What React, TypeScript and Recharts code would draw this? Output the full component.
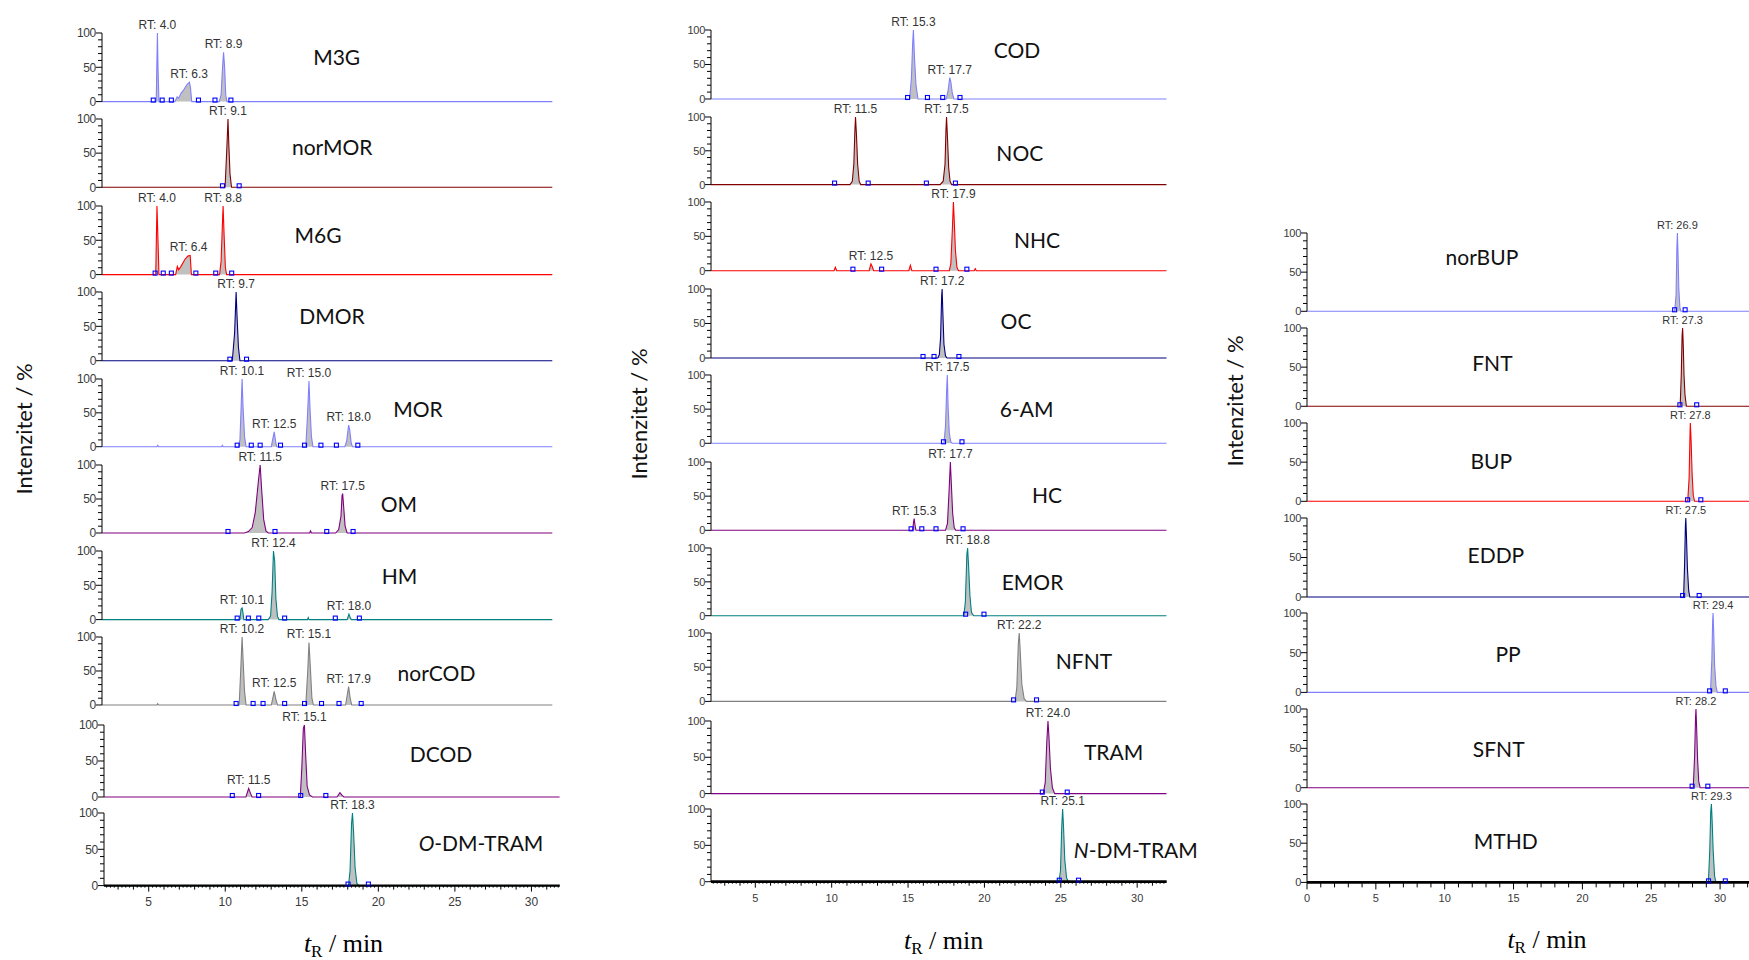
import React from 'react';
import { ComposedChart, Area, Scatter, XAxis, YAxis, ReferenceDot } from 'recharts';

// ================= DATA =================
// traces: [retention time (min, axis position), intensity %]
// marks: integration boundary markers (min)
// rt: [time, intensity, label]

// ---- Column 1 ----
const m3gTrace = [[5.48,0],[5.56,100],[5.6,48],[5.66,0],[6.7,0],[6.85,7],[6.95,5],[7.1,12],[7.3,18],[7.5,25],[7.65,28],[7.72,20],[7.8,0],[9.6,0],[9.72,10],[9.8,45],[9.88,72],[9.95,50],[10.02,10],[10.1,0]];
const m3gMarks = [5.29,5.87,6.47,8.24,9.32,10.36];
const m3gRT = [[5.56,100,'RT: 4.0'],[7.63,28,'RT: 6.3'],[9.88,72,'RT: 8.9']];

const normorTrace = [[9.98,0],[10.1,60],[10.17,100],[10.22,65],[10.3,20],[10.4,0]];
const normorMarks = [9.81,10.9];
const normorRT = [[10.17,100,'RT: 9.1']];

const m6gTrace = [[5.45,0],[5.53,100],[5.6,48],[5.66,0],[6.75,0],[6.86,12],[6.95,7],[7.1,12],[7.35,22],[7.55,27],[7.7,28],[7.78,0],[9.62,0],[9.72,20],[9.8,70],[9.85,100],[9.92,55],[10.0,10],[10.08,0]];
const m6gMarks = [5.41,5.94,6.47,8.07,9.37,10.41];
const m6gRT = [[5.53,100,'RT: 4.0'],[7.6,28,'RT: 6.4'],[9.85,100,'RT: 8.8']];

const dmorTrace = [[10.45,0],[10.6,40],[10.7,100],[10.76,65],[10.85,20],[10.95,0]];
const dmorMarks = [10.29,11.38];
const dmorRT = [[10.7,100,'RT: 9.7']];

const morTrace = [[5.52,0],[5.58,2],[5.64,0],[9.74,0],[9.8,2],[9.86,0],[10.85,0],[10.95,10],[11.03,60],[11.09,100],[11.15,60],[11.25,15],[11.35,0],[13.0,0],[13.1,12],[13.19,22],[13.28,8],[13.35,0],[15.25,0],[15.35,40],[15.46,97],[15.52,60],[15.62,15],[15.72,0],[17.8,0],[17.92,8],[18.05,32],[18.12,25],[18.22,5],[18.3,0]];
const morMarks = [10.77,11.69,12.27,13.6,15.17,16.24,17.25,18.65];
const morRT = [[11.09,100,'RT: 10.1'],[13.19,22,'RT: 12.5'],[15.46,97,'RT: 15.0'],[18.05,32,'RT: 18.0']];

const omTrace = [[11.25,0],[11.5,2],[11.75,8],[11.95,30],[12.15,75],[12.27,100],[12.38,60],[12.5,20],[12.65,3],[12.8,0],[15.5,0],[15.56,3],[15.62,0],[17.2,0],[17.4,5],[17.55,25],[17.62,55],[17.66,58],[17.72,40],[17.82,10],[17.95,0]];
const omMarks = [10.17,13.24,16.62,18.34];
const omRT = [[12.27,100,'RT: 11.5'],[17.66,58,'RT: 17.5']];

const hmTrace = [[10.95,0],[11.02,15],[11.09,17],[11.15,10],[11.2,0],[12.8,0],[12.95,5],[13.05,40],[13.14,100],[13.22,85],[13.3,30],[13.4,5],[13.5,0],[15.36,0],[15.41,3],[15.46,0],[17.95,0],[18.07,8],[18.15,3],[18.22,0]];
const hmMarks = [10.77,11.5,12.18,13.87,17.18,18.75];
const hmRT = [[11.09,17,'RT: 10.1'],[13.14,100,'RT: 12.4'],[18.07,8,'RT: 18.0']];

const norcodTrace = [[5.53,0],[5.58,2],[5.63,0],[10.9,0],[11.0,50],[11.09,100],[11.15,70],[11.25,20],[11.35,0],[13.0,0],[13.19,20],[13.3,8],[13.4,0],[15.25,0],[15.38,50],[15.46,92],[15.55,55],[15.65,10],[15.75,0],[17.85,0],[18.05,27],[18.15,10],[18.25,0]];
const norcodMarks = [10.7,11.81,12.46,13.87,15.17,16.28,17.42,18.87];
const norcodRT = [[11.09,100,'RT: 10.2'],[13.19,20,'RT: 12.5'],[15.46,92,'RT: 15.1'],[18.05,27,'RT: 17.9']];

const dcodTrace = [[11.35,0],[11.53,12],[11.65,5],[11.75,0],[14.9,0],[15.0,40],[15.1,95],[15.17,100],[15.25,60],[15.35,15],[15.5,3],[15.7,0],[17.3,0],[17.49,6],[17.65,2],[17.75,0]];
const dcodMarks = [10.46,12.18,14.93,16.57];
const dcodRT = [[11.53,12,'RT: 11.5'],[15.17,100,'RT: 15.1']];

const odmtramTrace = [[18.05,0],[18.15,20],[18.25,85],[18.31,100],[18.38,75],[18.48,25],[18.6,3],[18.75,0]];
const odmtramMarks = [18.02,19.35];
const odmtramRT = [[18.31,100,'RT: 18.3']];

// ---- Column 2 ----
const codTrace = [[15.1,0],[15.22,30],[15.3,80],[15.35,100],[15.42,60],[15.52,20],[15.65,0],[17.5,0],[17.62,12],[17.73,31],[17.8,25],[17.9,8],[18.0,0]];
const codMarks = [14.97,16.27,17.27,18.4];
const codRT = [[15.35,100,'RT: 15.3'],[17.73,31,'RT: 17.7']];

const nocTrace = [[11.2,0],[11.35,5],[11.45,30],[11.52,80],[11.56,100],[11.62,75],[11.7,30],[11.8,5],[11.9,0],[17.1,0],[17.3,5],[17.42,30],[17.48,80],[17.52,100],[17.58,70],[17.66,25],[17.75,5],[17.85,0]];
const nocMarks = [10.19,12.39,16.2,18.1];
const nocRT = [[11.56,100,'RT: 11.5'],[17.52,100,'RT: 17.5']];

const nhcTrace = [[10.15,0],[10.24,5],[10.33,0],[12.45,0],[12.57,10],[12.65,6],[12.75,0],[15.05,0],[15.15,8],[15.25,0],[17.7,0],[17.8,10],[17.9,60],[17.97,100],[18.03,70],[18.1,30],[18.2,5],[18.3,0],[19.33,0],[19.4,3],[19.47,0]];
const nhcMarks = [11.39,13.27,16.83,18.85];
const nhcRT = [[12.57,10,'RT: 12.5'],[17.97,100,'RT: 17.9']];

const ocTrace = [[16.95,0],[17.05,5],[17.13,30],[17.2,90],[17.23,100],[17.28,65],[17.35,20],[17.45,3],[17.55,0]];
const ocMarks = [15.98,16.7,18.33];
const ocRT = [[17.23,100,'RT: 17.2']];

const amTrace = [[17.35,0],[17.45,25],[17.53,80],[17.57,100],[17.62,55],[17.7,15],[17.8,2],[17.9,0]];
const amMarks = [17.32,18.53];
const amRT = [[17.57,100,'RT: 17.5']];

const hcTrace = [[15.3,0],[15.36,12],[15.4,17],[15.45,8],[15.52,0],[17.45,0],[17.58,10],[17.68,55],[17.77,100],[17.83,70],[17.92,25],[18.02,4],[18.12,0]];
const hcMarks = [15.2,15.9,16.83,18.6];
const hcRT = [[15.4,17,'RT: 15.3'],[17.77,100,'RT: 17.7']];

const emorTrace = [[18.65,0],[18.75,20],[18.85,90],[18.9,100],[18.96,75],[19.05,30],[19.15,5],[19.3,0]];
const emorMarks = [18.77,19.97];
const emorRT = [[18.9,100,'RT: 18.8']];

const nfntTrace = [[22.0,0],[22.12,20],[22.22,85],[22.28,100],[22.35,70],[22.45,25],[22.6,4],[22.75,0]];
const nfntMarks = [21.91,23.41];
const nfntRT = [[22.28,100,'RT: 22.2']];

const tramTrace = [[23.85,0],[23.98,15],[24.08,70],[24.16,100],[24.22,80],[24.32,35],[24.45,8],[24.6,0]];
const tramMarks = [23.79,25.42];
const tramRT = [[24.16,100,'RT: 24.0']];

const ndmtramTrace = [[24.88,0],[24.98,15],[25.06,75],[25.12,100],[25.18,75],[25.26,30],[25.38,5],[25.5,0]];
const ndmtramMarks = [24.9,26.16];
const ndmtramRT = [[25.12,100,'RT: 25.1']];

// ---- Column 3 ----
const norbupTrace = [[26.7,0],[26.8,20],[26.86,80],[26.9,100],[26.95,70],[27.0,30],[27.08,5],[27.15,0]];
const norbupMarks = [26.7,27.46];
const norbupRT = [[26.9,100,'RT: 26.9']];

const fntTrace = [[27.1,0],[27.18,40],[27.24,90],[27.28,100],[27.33,75],[27.38,40],[27.45,15],[27.55,0]];
const fntMarks = [27.08,28.3];
const fntRT = [[27.28,100,'RT: 27.3']];

const bupTrace = [[27.65,0],[27.75,30],[27.82,90],[27.84,100],[27.9,75],[27.97,35],[28.05,8],[28.15,0]];
const bupMarks = [27.64,28.6];
const bupRT = [[27.84,100,'RT: 27.8']];

const eddpTrace = [[27.35,0],[27.42,40],[27.48,90],[27.51,100],[27.56,75],[27.63,35],[27.72,8],[27.8,0]];
const eddpMarks = [27.28,28.48];
const eddpRT = [[27.51,100,'RT: 27.5']];

const ppTrace = [[29.3,0],[29.4,40],[29.46,90],[29.49,100],[29.54,75],[29.6,35],[29.7,8],[29.8,0]];
const ppMarks = [29.24,30.38];
const ppRT = [[29.49,100,'RT: 29.4']];

const sfntTrace = [[28.05,0],[28.15,40],[28.22,90],[28.25,100],[28.3,75],[28.37,35],[28.45,8],[28.55,0]];
const sfntMarks = [27.97,29.11];
const sfntRT = [[28.25,100,'RT: 28.2']];

const mthdTrace = [[29.15,0],[29.25,40],[29.32,90],[29.37,100],[29.42,80],[29.5,40],[29.6,8],[29.7,0]];
const mthdMarks = [29.16,30.38];
const mthdRT = [[29.37,100,'RT: 29.3']];

// tick values
const yTicks = [0,10,20,30,40,50,60,70,80,90,100];
const yTickLabels = [0,50,100];
const xTickLabels12 = [5,10,15,20,25,30];
const xTickLabels3 = [0,5,10,15,20,25,30];

// compound names
const col1Names = ['M3G','norMOR','M6G','DMOR','MOR','OM','HM','norCOD','DCOD','O-DM-TRAM'];
const col2Names = ['COD','NOC','NHC','OC','6-AM','HC','EMOR','NFNT','TRAM','N-DM-TRAM'];
const col3Names = ['norBUP','FNT','BUP','EDDP','PP','SFNT','MTHD'];

const yTitle = 'Intenzitet / %';

// ================= STYLES / LAYOUT =================
const C = {
  lblue: '#8080ff', dred: '#800000', red: '#ff0000', navy: '#000080',
  purple: '#800080', teal: '#008080', gray: '#808080',
};

const col1Series = [
  [m3gTrace, m3gMarks, m3gRT], [normorTrace, normorMarks, normorRT], [m6gTrace, m6gMarks, m6gRT],
  [dmorTrace, dmorMarks, dmorRT], [morTrace, morMarks, morRT], [omTrace, omMarks, omRT],
  [hmTrace, hmMarks, hmRT], [norcodTrace, norcodMarks, norcodRT], [dcodTrace, dcodMarks, dcodRT],
  [odmtramTrace, odmtramMarks, odmtramRT],
];
const col2Series = [
  [codTrace, codMarks, codRT], [nocTrace, nocMarks, nocRT], [nhcTrace, nhcMarks, nhcRT],
  [ocTrace, ocMarks, ocRT], [amTrace, amMarks, amRT], [hcTrace, hcMarks, hcRT],
  [emorTrace, emorMarks, emorRT], [nfntTrace, nfntMarks, nfntRT], [tramTrace, tramMarks, tramRT],
  [ndmtramTrace, ndmtramMarks, ndmtramRT],
];
const col3Series = [
  [norbupTrace, norbupMarks, norbupRT], [fntTrace, fntMarks, fntRT], [bupTrace, bupMarks, bupRT],
  [eddpTrace, eddpMarks, eddpRT], [ppTrace, ppMarks, ppRT], [sfntTrace, sfntMarks, sfntRT],
  [mthdTrace, mthdMarks, mthdRT],
];

// per-panel style: [trace color, axis color, axis width]
const col1Style = [
  [C.lblue, C.lblue, 1.2], [C.dred, '#000', 3], [C.red, '#000', 2.6], [C.navy, '#000', 2.2],
  [C.lblue, '#000', 2.4], [C.purple, '#000', 2.4], [C.teal, '#000', 2.4], [C.gray, C.gray, 1.2],
  [C.purple, '#000', 2.2], [C.teal, '#000', 2.2],
];
const col2Style = [
  [C.lblue, '#000', 2.2], [C.dred, '#000', 2.8], [C.red, '#000', 2.2], [C.navy, '#000', 3],
  [C.lblue, '#333', 2], [C.purple, '#000', 2.8], [C.teal, '#000', 2.2], [C.gray, C.gray, 1.2],
  [C.purple, '#000', 3], [C.teal, '#000', 2.8],
];
const col3Style = [
  [C.lblue, '#000', 2.8], [C.dred, '#000', 3], [C.red, '#444', 2.2], [C.navy, '#000', 3],
  [C.lblue, '#000', 2.2], [C.purple, '#000', 3], [C.teal, '#000', 2.8],
];

// [y of 100 %, y of 0 %]
const col1Y = [[33,101.6],[119.3,187.6],[205.9,274.5],[292.3,361],[379,446.7],[465,533],[550.7,619.3],[637.3,705.3],[724.7,796.7],[812.7,885.3]];
const col2Y = [[30,99],[116.7,184.3],[202.3,271],[288.7,357.7],[375,443.3],[461.7,530],[548.3,616],[633.3,701.7],[720.7,793.3],[809,881.7]];
const col3Y = [[232.7,311],[327.7,406],[422.7,501],[518.3,597.3],[613.3,692.7],[709,787.7],[804.3,882.7]];

const col1Dom = [[1.94,31.37],[1.94,31.37],[1.94,31.37],[1.94,31.37],[1.94,31.37],[1.94,31.37],[1.94,31.37],[1.94,31.37],[2.08,31.85],[2.08,31.85]];
const col2Dom = col2Names.map(() => [2.1, 31.93]);
const col3Dom = col3Names.map(() => [0, 32.3]);

// name label centers
const col1NamePos = [[336.7,56],[332.2,146],[318,234.3],[332,315],[418,408.3],[398.8,503.3],[399.5,575],[436.5,672.7],[441,753.3],[481,842.3]];
const col2NamePos = [[1017.1,49.3],[1019.8,152.3],[1037,239],[1016,320],[1026.7,408.3],[1047,494],[1032.5,581.7],[1084,660],[1113.6,751.7],[1135.8,849]];
const col3NamePos = [[1481.9,256],[1492.4,362.3],[1491.3,460],[1495.9,554.3],[1508,653.3],[1498.7,748.3],[1505.7,840]];

const columns = [
  { x0: 71.8, ppm: 15.31, series: col1Series, style: col1Style, ys: col1Y, dom: col1Dom, fs: 12, rtfs: 12, kind: 'fine', xLabels: xTickLabels12 },
  { x0: 678.6, ppm: 15.276, series: col2Series, style: col2Style, ys: col2Y, dom: col2Dom, fs: 11, rtfs: 12, kind: 'fine', xLabels: xTickLabels12 },
  { x0: 1306.8, ppm: 13.77, series: col3Series, style: col3Style, ys: col3Y, dom: col3Dom, fs: 11, rtfs: 11, kind: 'coarse', xLabels: xTickLabels3 },
];

const TICK_COLOR = '#3a3a3a';
const SANS = '"Liberation Sans", Arial, sans-serif';

function makeXTicks(min: number, max: number, kind: string) {
  const step = kind === 'fine' ? 0.25 : 1;
  const out: number[] = [];
  const start = Math.ceil(min / step) * step;
  for (let v = start; v <= max + 1e-9; v += step) out.push(Math.round(v * 100) / 100);
  return out;
}

const Square = (props: any) => {
  const { cx, cy } = props;
  if (cx == null || cy == null) return null;
  return <rect x={cx - 2} y={cy - 3.5} width={4} height={4} fill="none" stroke="#0000ff" strokeWidth={1.1} />;
};

function Panel({ col, i }: { col: any; i: number }) {
  const [trace, marks, rt] = col.series[i];
  const [color, axisColor, axisW] = col.style[i];
  const [y100, y0] = col.ys[i];
  const [xMin, xMax] = col.dom[i];
  const isBottom = i === col.series.length - 1;
  const yw = 50, mt = 30, mr = 2, mb = 10;
  const xh = isBottom ? 30 : 0;
  const plotLeft = col.x0 + xMin * col.ppm;
  const plotW = (xMax - xMin) * col.ppm;
  const plotH = y0 - y100;
  const left = plotLeft - yw;
  const top = y100 - mt;
  const width = yw + plotW + mr;
  const height = mt + plotH + xh + mb;

  const data = [{ t: xMin, v: 0 }, ...trace.map((d: number[]) => ({ t: d[0], v: d[1] })), { t: xMax, v: 0 }];
  const markData = marks.map((t: number) => ({ t, v: 0 }));
  const xTicks = makeXTicks(xMin, xMax, col.kind);

  const YTick = (p: any) => {
    const v = p.payload.value;
    const major = yTickLabels.includes(v);
    return (
      <g>
        <line x1={p.x} x2={p.x - (major ? 6 : 4)} y1={p.y} y2={p.y} stroke="#000" strokeWidth={1} />
        {major && (
          <text x={p.x - 6} y={p.y} dy={col.fs * 0.36} textAnchor="end" fontSize={col.fs} fill={TICK_COLOR} fontFamily={SANS} letterSpacing={-0.3}>
            {v}
          </text>
        )}
      </g>
    );
  };

  const XTick = (p: any) => {
    const v = p.payload.value;
    const isMajor = Math.abs(v - Math.round(v / 5) * 5) < 1e-6;
    const isMid = Math.abs(v - Math.round(v)) < 1e-6;
    const len = col.kind === 'fine' ? (isMajor ? 6 : isMid ? 4 : 2) : (isMajor ? 7 : 5);
    return (
      <g>
        <line x1={p.x} x2={p.x} y1={p.y} y2={p.y + len} stroke="#000" strokeWidth={1} />
        {isMajor && col.xLabels.includes(Math.round(v)) && (
          <text x={p.x} y={p.y + 20} textAnchor="middle" fontSize={col.fs} fill={TICK_COLOR} fontFamily={SANS}>
            {Math.round(v)}
          </text>
        )}
      </g>
    );
  };

  return (
    <div style={{ position: 'absolute', left, top, width, height }}>
      <ComposedChart width={width} height={height} data={data} margin={{ top: mt, right: mr, bottom: mb, left: 0 }}>
        <XAxis
          dataKey="t"
          type="number"
          domain={[xMin, xMax]}
          allowDataOverflow
          height={xh}
          ticks={isBottom ? xTicks : undefined}
          tick={isBottom ? XTick : false}
          tickLine={false}
          tickSize={0}
          tickMargin={0}
          interval={0}
          axisLine={{ stroke: axisColor, strokeWidth: axisW }}
        />
        <YAxis
          type="number"
          domain={[0, 100]}
          ticks={yTicks}
          tick={YTick}
          tickLine={false}
          tickSize={0}
          tickMargin={0}
          width={yw}
          interval={0}
          axisLine={{ stroke: '#000', strokeWidth: 1 }}
        />
        <Area
          dataKey="v"
          type="linear"
          stroke={color}
          strokeWidth={1.1}
          fill="#c0c0c0"
          fillOpacity={1}
          dot={false}
          activeDot={false}
          isAnimationActive={false}
        />
        <Scatter data={markData} dataKey="v" shape={Square} isAnimationActive={false} />
        {rt.map((r: any, k: number) => (
          <ReferenceDot
            key={k}
            x={r[0]}
            y={r[1]}
            r={0}
            fill="none"
            stroke="none"
            ifOverflow="visible"
            label={{ value: r[2], position: 'top', offset: 4, fill: '#333', fontSize: col.rtfs, fontFamily: SANS }}
          />
        ))}
      </ComposedChart>
    </div>
  );
}

const NAME_FONT = 'Lato, "Open Sans", sans-serif';

function NameText({ name, x, y }: { name: string; x: number; y: number }) {
  const italicPrefix = name.startsWith('O-') || name.startsWith('N-');
  return (
    <text x={x} y={y} textAnchor="middle" dominantBaseline="central" fontSize={21} fontFamily={NAME_FONT} fill="#111">
      {italicPrefix ? (
        <>
          <tspan fontStyle="italic">{name[0]}</tspan>
          <tspan>{name.slice(1)}</tspan>
        </>
      ) : (
        name
      )}
    </text>
  );
}

function XTitle({ x, y }: { x: number; y: number }) {
  return (
    <text x={x} y={y} textAnchor="middle" fontSize={26} fontFamily='"Liberation Serif", "Times New Roman", serif' fill="#000">
      <tspan fontStyle="italic">t</tspan>
      <tspan fontSize={17} dy={5}>R</tspan>
      <tspan dy={-5}> / min</tspan>
    </text>
  );
}

export default function App() {
  const names = [col1Names, col2Names, col3Names];
  const namePos = [col1NamePos, col2NamePos, col3NamePos];
  return (
    <div style={{ position: 'fixed', left: 0, top: 0, width: 1749, height: 960, overflow: 'hidden', background: '#fff' }}>
      {columns.map((col, c) => col.series.map((_: any, i: number) => <Panel key={`${c}-${i}`} col={col} i={i} />))}
      <svg width={1749} height={960} style={{ position: 'absolute', left: 0, top: 0, pointerEvents: 'none' }}>
        {names.map((arr, c) => arr.map((n, i) => <NameText key={`${c}-${i}`} name={n} x={namePos[c][i][0]} y={namePos[c][i][1]} />))}
        {[[23, 429], [638, 414], [1234, 401]].map(([x, y], k) => (
          <text key={k} x={x} y={y} transform={`rotate(-90 ${x} ${y})`} textAnchor="middle" dominantBaseline="central" fontSize={22} fontFamily={NAME_FONT} fill="#111">
            {yTitle}
          </text>
        ))}
        <XTitle x={343.5} y={952} />
        <XTitle x={943.6} y={949} />
        <XTitle x={1547} y={948} />
      </svg>
    </div>
  );
}
